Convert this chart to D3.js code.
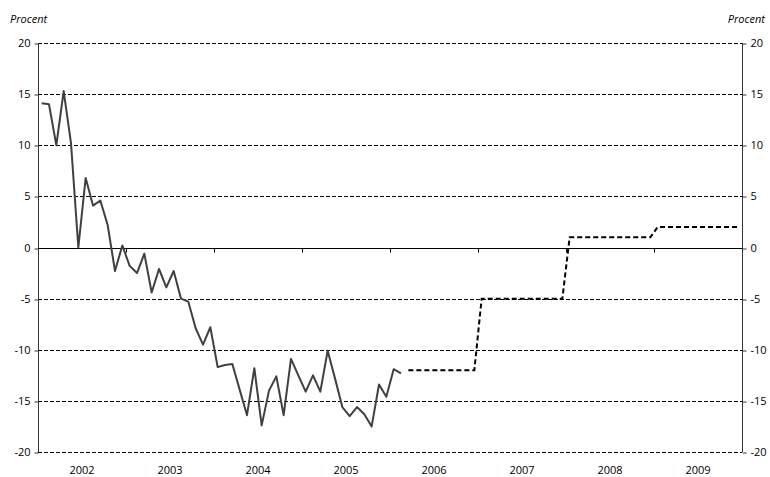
<!DOCTYPE html>
<html>
<head>
<meta charset="utf-8">
<script src="https://cdn.jsdelivr.net/npm/d3@7"></script>
<style>
  body { margin: 0; background: #fff; }
  svg text { font-family: "Open Sans", "Noto Sans", sans-serif; fill: #000; }
</style>
</head>
<body>
<div id="chart"></div>
<script>
// monthly outcome, Jan 2002 - Feb 2006 (percent)
const firstYear = 2002
const lastYear = 2009
const actualValues = [
    14.1, 14.0, 10.0, 15.3, 10.2, 0.0, 6.8, 4.1, 4.6, 2.2, -2.3, 0.2,
    -1.8, -2.5, -0.6, -4.4, -2.1, -3.9, -2.3, -5.0, -5.3, -7.9, -9.5, -7.8,
    -11.7, -11.5, -11.4, -13.9, -16.4, -11.8, -17.4, -14.0, -12.6, -16.4, -10.9, -12.5,
    -14.1, -12.5, -14.1, -10.1, -12.8, -15.6, -16.5, -15.6, -16.3, -17.5, -13.4, -14.6,
    -11.9, -12.3
]
// forecast, yearly level, starting March 2006
const forecastYears = [2006, 2007, 2008, 2009]
const forecastValues = [-12, -5, 1, 2]
const forecastStartMonth = 2 // March
const yTicks = [-20, -15, -10, -5, 0, 5, 10, 15, 20]
const yearLabels = ['2002', '2003', '2004', '2005', '2006', '2007', '2008', '2009']

const width = 770, height = 477
const margin = {left: 38, right: 28, top: 43, bottom: 25}

const svg = d3.select('#chart').append('svg')
    .attr('width', width)
    .attr('height', height)

const nMonths = (lastYear - firstYear + 1) * 12
const xScale = d3.scaleLinear()
    .domain([0, nMonths])
    .range([margin.left, width - margin.right])

const yScale = d3.scaleLinear()
    .domain([-20, 20])
    .range([height - margin.bottom, margin.top])

// gridlines
svg.append('g')
    .selectAll('line')
    .data(yTicks.filter(d => d !== 0))
    .enter().append('line')
    .attr('x1', xScale(0))
    .attr('x2', xScale(nMonths))
    .attr('y1', d => Math.round(yScale(d)) + 0.5)
    .attr('y2', d => Math.round(yScale(d)) + 0.5)
    .attr('stroke', '#000')
    .attr('stroke-width', 1)
    .attr('stroke-dasharray', '4,2')

// left and right axes (plain hyphen for minus, like the original)
const fmt = d => String(d)
const leftAxis = svg.append('g')
    .attr('transform', `translate(${Math.round(xScale(0)) + 0.5}, 0)`)
    .call(d3.axisLeft(yScale).tickValues(yTicks).tickFormat(fmt).tickSize(4).tickPadding(4))
const rightAxis = svg.append('g')
    .attr('transform', `translate(${Math.round(xScale(nMonths)) + 0.5}, 0)`)
    .call(d3.axisRight(yScale).tickValues(yTicks).tickFormat(fmt).tickSize(4).tickPadding(4))
;[leftAxis, rightAxis].forEach(ax => {
    ax.select('path.domain').remove()
    ax.append('line')
        .attr('y1', yScale(20)).attr('y2', yScale(-20))
        .attr('stroke', '#333')
    ax.selectAll('.tick line').attr('stroke', '#333').attr('transform', d => `translate(0,${Math.round(yScale(d)) + 0.5 - yScale(d)})`)
    ax.selectAll('.tick text').style('font-size', '11px').attr('fill', '#000')
})

// zero line with year ticks
const zeroY = Math.round(yScale(0)) + 0.5
svg.append('line')
    .attr('x1', xScale(0))
    .attr('x2', xScale(nMonths))
    .attr('y1', zeroY)
    .attr('y2', zeroY)
    .attr('stroke', '#000')
svg.append('g')
    .selectAll('line')
    .data(d3.range(1, lastYear - firstYear + 1))
    .enter().append('line')
    .attr('x1', d => Math.round(xScale(d * 12)) + 0.5)
    .attr('x2', d => Math.round(xScale(d * 12)) + 0.5)
    .attr('y1', zeroY)
    .attr('y2', zeroY + 4)
    .attr('stroke', '#000')

// year labels
svg.append('g')
    .selectAll('text')
    .data(yearLabels)
    .enter().append('text')
    .attr('x', (d, i) => xScale(i * 12 + 6))
    .attr('y', height - 3)
    .attr('text-anchor', 'middle')
    .style('font-size', '11px')
    .text(d => d)

// 'Procent' labels
svg.append('text').attr('x', 10).attr('y', 23)
    .style('font-size', '11px').style('font-style', 'italic').text('Procent')
svg.append('text').attr('x', width - 5).attr('y', 23).attr('text-anchor', 'end')
    .style('font-size', '11px').style('font-style', 'italic').text('Procent')

// outcome line
const line = d3.line()
    .x(d => xScale(d.m + 0.5))
    .y(d => yScale(d.v))

const actual = actualValues.map((v, i) => ({m: i, v: v}))
svg.append('path')
    .datum(actual)
    .attr('d', line)
    .attr('fill', 'none')
    .attr('stroke', '#404040')
    .attr('stroke-width', 2)
    .attr('stroke-linejoin', 'round')

// forecast, one point per month at the level of its year
const forecast = []
forecastYears.forEach((yr, i) => {
    const startM = i === 0 ? forecastStartMonth : 0
    for (let k = startM; k < 12; k++) {
        forecast.push({m: (yr - firstYear) * 12 + k, v: forecastValues[i]})
    }
})
svg.append('path')
    .datum(forecast)
    .attr('d', line)
    .attr('fill', 'none')
    .attr('stroke', '#000')
    .attr('stroke-width', 2)
    .attr('stroke-dasharray', '5,3')
</script>
</body>
</html>
